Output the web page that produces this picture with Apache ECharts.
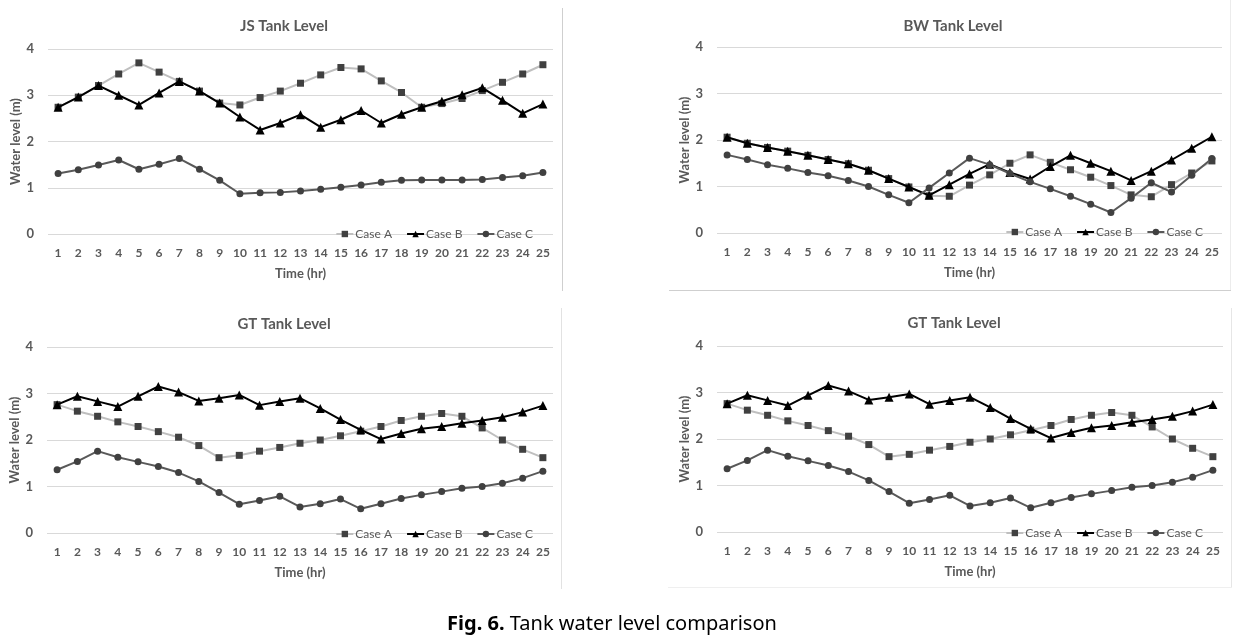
<!DOCTYPE html>
<html><head><meta charset="utf-8">
<script src="https://cdn.jsdelivr.net/npm/echarts@6/dist/echarts.min.js"></script>
<style>html,body{margin:0;padding:0;background:#fff}#c{width:1239px;height:640px}</style>
</head><body><div id="c"></div>
<script>
const hours = ['1','2','3','4','5','6','7','8','9','10','11','12','13','14','15','16','17','18','19','20','21','22','23','24','25'];
const seriesNames = ['Case A', 'Case B', 'Case C'];

const jsCaseA = [2.74,2.96,3.21,3.46,3.70,3.50,3.30,3.09,2.83,2.79,2.95,3.09,3.26,3.44,3.60,3.57,3.31,3.06,2.74,2.82,2.93,3.10,3.28,3.46,3.66];
const jsCaseB = [2.74,2.96,3.21,3.00,2.79,3.05,3.30,3.09,2.83,2.53,2.25,2.40,2.58,2.31,2.47,2.67,2.40,2.59,2.74,2.87,3.01,3.16,2.89,2.61,2.81];
const jsCaseC = [1.31,1.39,1.49,1.60,1.40,1.51,1.63,1.40,1.16,0.87,0.89,0.90,0.93,0.97,1.01,1.06,1.12,1.16,1.17,1.17,1.17,1.18,1.22,1.26,1.33];

const bwCaseA = [2.06,1.93,1.84,1.76,1.67,1.58,1.49,1.35,1.17,0.99,0.80,0.79,1.03,1.25,1.50,1.68,1.52,1.36,1.20,1.02,0.82,0.78,1.04,1.29,1.55];
const bwCaseB = [2.06,1.93,1.84,1.76,1.67,1.58,1.49,1.35,1.17,0.99,0.81,1.04,1.27,1.48,1.30,1.16,1.43,1.67,1.50,1.33,1.13,1.33,1.57,1.82,2.07];
const bwCaseC = [1.68,1.58,1.47,1.39,1.30,1.23,1.13,1.00,0.82,0.65,0.97,1.29,1.61,1.47,1.28,1.10,0.95,0.79,0.62,0.44,0.75,1.08,0.88,1.24,1.60];

const gtCaseA = [2.76,2.62,2.51,2.39,2.29,2.18,2.06,1.88,1.62,1.67,1.76,1.84,1.93,2.00,2.09,2.19,2.29,2.42,2.51,2.57,2.51,2.26,2.00,1.80,1.62];
const gtCaseB = [2.76,2.94,2.83,2.72,2.94,3.15,3.03,2.84,2.90,2.97,2.75,2.83,2.90,2.68,2.44,2.22,2.02,2.14,2.24,2.29,2.36,2.42,2.49,2.60,2.74];
const gtCaseC = [1.36,1.54,1.76,1.63,1.53,1.43,1.30,1.11,0.87,0.62,0.70,0.79,0.56,0.63,0.73,0.52,0.63,0.74,0.82,0.89,0.96,1.00,1.07,1.18,1.33];

const panelTitles = ['JS Tank Level', 'BW Tank Level', 'GT Tank Level', 'GT Tank Level'];
const xAxisName = 'Time (hr)';
const yAxisName = 'Water level (m)';
const caption = 'Tank water level comparison';
const captionLead = 'Fig. 6.';

const panelData = [
  [jsCaseA, jsCaseB, jsCaseC],
  [bwCaseA, bwCaseB, bwCaseC],
  [gtCaseA, gtCaseB, gtCaseC],
  [gtCaseA, gtCaseB, gtCaseC]
];

const layout = [
  {grid:{left:48, width:505, top:49, height:185}, tx:279, ty:14, lr:701, ly:223},
  {grid:{left:717, width:505, top:47, height:186}, tx:948, ty:14, lr:31, ly:221},
  {grid:{left:47, width:506, top:347, height:186}, tx:279, ty:312, lr:701, ly:523},
  {grid:{left:717, width:506, top:346, height:186}, tx:949, ty:311, lr:31, ly:522}
];

const FONT = 'Lato';
const TXT = '#595959';
const styles = [
  {symbol:'rect', symbolSize:7, line:'#bfbfbf', mark:'#404040'},
  {symbol:'triangle', symbolSize:9, line:'#000000', mark:'#000000'},
  {symbol:'circle', symbolSize:7, line:'#595959', mark:'#404040'}
];

const option = {
  animation:false,
  backgroundColor:'#ffffff',
  title:[], grid:[], xAxis:[], yAxis:[], legend:[], series:[],
  graphic:[]
};

layout.forEach((L, i) => {
  option.grid.push(Object.assign({containLabel:false}, L.grid));
  option.title.push({
    text: panelTitles[i], left: L.tx, top: L.ty, textAlign:'center',
    textStyle:{fontFamily:FONT, fontSize:15, fontWeight:'bold', color:TXT}
  });
  option.xAxis.push({
    type:'category', gridIndex:i, data:hours, boundaryGap:true,
    axisLine:{show:false}, axisTick:{show:false},
    axisLabel:{color:TXT, fontFamily:FONT, fontSize:12, fontWeight:'bold', margin:13, interval:0},
    name:xAxisName, nameLocation:'middle', nameGap:33,
    nameTextStyle:{color:TXT, fontFamily:FONT, fontSize:13, fontWeight:'bold'}
  });
  option.yAxis.push({
    type:'value', gridIndex:i, min:0, max:4, interval:1,
    axisLine:{show:false}, axisTick:{show:false},
    splitLine:{lineStyle:{color:'#d9d9d9', width:1}},
    axisLabel:{color:TXT, fontFamily:FONT, fontSize:13, fontWeight:'bold', margin:14},
    name:yAxisName, nameLocation:'middle', nameGap:23,
    nameTextStyle:{color:TXT, fontFamily:FONT, fontSize:13, fontWeight:'bold'}
  });
  option.legend.push({
    data:seriesNames, right:L.lr, top:L.ly, itemWidth:17, itemHeight:8, itemGap:14,
    textStyle:{color:TXT, fontFamily:FONT, fontSize:12, padding:[0,0,0,-3]}, selectedMode:false
  });
  panelData[i].forEach((arr, k) => {
    const s = styles[k];
    option.series.push({
      type:'line', name:seriesNames[k], xAxisIndex:i, yAxisIndex:i, data:arr,
      symbol:s.symbol, symbolSize:s.symbolSize, showAllSymbol:true,
      lineStyle:{color:s.line, width:2}, itemStyle:{color:s.mark},
      z:2 + k
    });
  });
});

// panel frames
const frame = (x1,y1,x2,y2,c) => ({type:'line', shape:{x1,y1,x2,y2}, style:{stroke:c, lineWidth:1}, silent:true});
option.graphic.push(
  frame(562.5,8,562.5,291,'#cfcfcf'),
  frame(669,290.5,1231,290.5,'#cfcfcf'),
  frame(1230.5,0,1230.5,290,'#ececec'),
  frame(561.5,308,561.5,589,'#e2e2e2'),
  frame(1231.5,308,1231.5,588,'#e6e6e6'),
  frame(668,587.5,1232,587.5,'#efefef'),
  {type:'text', x:612, y:624, style:{
    text:'{b|' + captionLead + '} ' + caption,
    rich:{b:{fontWeight:'bold', fontSize:20, fontFamily:'Noto Sans', fill:'#000'}},
    fontSize:20, fontFamily:'Noto Sans', fill:'#000', align:'center', verticalAlign:'middle'
  }}
);

const chart = echarts.init(document.getElementById('c'), null, {renderer:'canvas'});
chart.setOption(option);
</script>
</body></html>
